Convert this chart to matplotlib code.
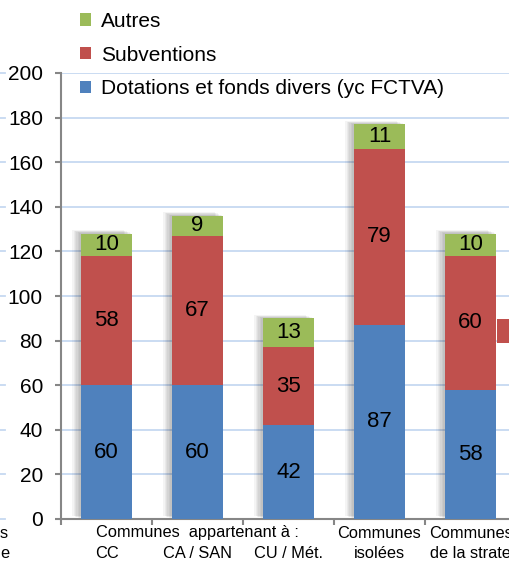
import matplotlib
matplotlib.use("Agg")
import matplotlib.pyplot as plt
import matplotlib.patheffects as pe
from matplotlib.patches import Rectangle
from matplotlib.transforms import blended_transform_factory
import numpy as np

plt.rcParams['font.family'] = ['Liberation Sans', 'DejaVu Sans']

categories = ["CC", "CA / SAN", "CU / Mét.", "Communes\nisolées", "Communes\nde la strate"]
dotations = [60, 60, 42, 87, 58]
subventions = [58, 67, 35, 79, 60]
autres = [10, 9, 13, 11, 10]
series_names = ["Dotations et fonds divers (yc FCTVA)", "Subventions", "Autres"]
yticks = [0, 20, 40, 60, 80, 100, 120, 140, 160, 180, 200]
group_label = "Communes  appartenant à :"

c_blue = "#4F81BD"
c_red = "#C0504D"
c_green = "#9BBB59"
c_grid = "#C6D9F1"
c_axis = "#868686"

W, H = 509, 563
fig = plt.figure(figsize=(W / 100, H / 100), dpi=100)
ax = fig.add_axes([61 / W, 44 / H, 455 / W, 446 / H])

x = np.arange(len(categories))
width = 0.57
d = np.array(dotations)
s = np.array(subventions)
a = np.array(autres)
totals = d + s + a

# soft shadow to the upper-left of each bar
shadow = [pe.SimplePatchShadow(offset=(-o, o * 0.4), shadow_rgbFace="k", alpha=0.045)
          for o in (1, 2, 3, 4, 5, 6)]
ax.bar(x, totals, width, color="white", zorder=2, path_effects=shadow)

b1 = ax.bar(x, d, width, color=c_blue, zorder=3)
b2 = ax.bar(x, s, width, bottom=d, color=c_red, zorder=3)
b3 = ax.bar(x, a, width, bottom=d + s, color=c_green, zorder=3)

for bars, vals, bottoms in ((b1, d, np.zeros_like(d)), (b2, s, d), (b3, a, d + s)):
    for xi, v, b in zip(x, vals, bottoms):
        ax.text(xi, b + v / 2, str(v), ha="center", va="center", fontsize=16, zorder=4)

ax.set_xlim(-0.5, len(categories) - 0.5)
ax.set_ylim(0, 200)
ax.set_yticks(yticks)
ax.tick_params(axis="y", labelsize=15, length=4, width=1.5, color=c_axis, pad=9)
ax.set_xticks(np.arange(len(categories) + 1) - 0.5)
ax.set_xticklabels([])
ax.tick_params(axis="x", length=4, width=1.5, color=c_axis, direction="out")
ax.grid(axis="y", color=c_grid, linewidth=1.3, zorder=0)
ax.set_axisbelow(True)
for sp in ("top", "right"):
    ax.spines[sp].set_visible(False)
for sp in ("left", "bottom"):
    ax.spines[sp].set_color(c_axis)
    ax.spines[sp].set_linewidth(1.5)

# category labels
fs_cat = 11.8
tr = blended_transform_factory(ax.transData, fig.transFigure)
ax.text(1, 1 - 533 / H, group_label, transform=tr, ha="center", va="center", fontsize=fs_cat)
for xi, lab in zip(x, categories):
    lines = lab.split("\n")
    if len(lines) == 1:
        ax.text(xi, 1 - 554 / H, lines[0], transform=tr, ha="center", va="center", fontsize=fs_cat)
    else:
        ax.text(xi, 1 - 533 / H, lines[0], transform=tr, ha="center", va="center", fontsize=fs_cat)
        ax.text(xi, 1 - 554 / H, lines[1], transform=tr, ha="center", va="center", fontsize=fs_cat)

# legend
handles = [b3, b2, b1]
labels = [series_names[2], series_names[1], series_names[0]]
fig.legend(handles, labels, loc="upper left", bbox_to_anchor=(80 / W, 1 - 12 / H),
           frameon=False, fontsize=15, handlelength=0.55, handleheight=0.55,
           handletextpad=0.45, labelspacing=0.7, borderpad=0, borderaxespad=0)

# cropped neighbouring elements
for yv in yticks:
    yf = (44 + yv * 446 / 200) / H
    fig.add_artist(plt.Line2D([0, 5 / W], [yf, yf], color=c_grid, linewidth=1.3))
fig.text(0, 1 - 533 / H, "s", ha="left", va="center", fontsize=fs_cat)
fig.text(0, 1 - 554 / H, "e", ha="left", va="center", fontsize=fs_cat)
fig.add_artist(Rectangle((497 / W, 1 - 343 / H), 12 / W, 24 / H, transform=fig.transFigure,
                         facecolor=c_red, edgecolor="none"))

fig.savefig("out.png", dpi=100)
